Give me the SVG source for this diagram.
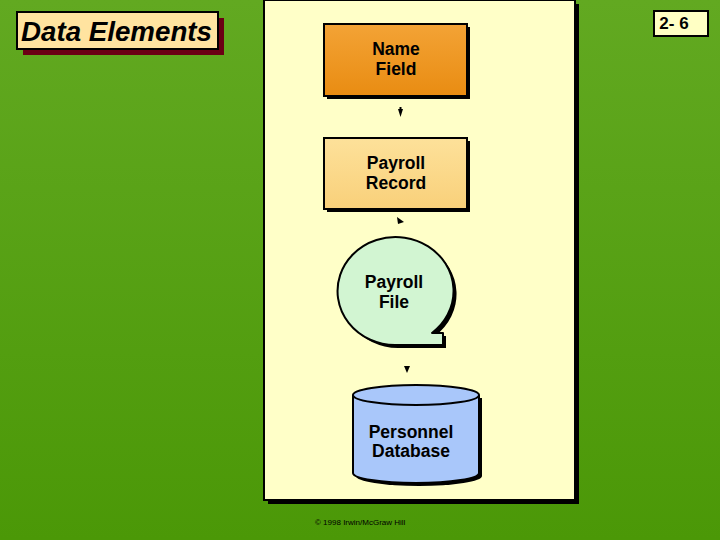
<svg xmlns="http://www.w3.org/2000/svg" width="720" height="540" viewBox="0 0 720 540">
<defs>
<linearGradient id="bg" x1="0" y1="0" x2="0" y2="1">
<stop offset="0" stop-color="#62a921"/>
<stop offset="1" stop-color="#4b9807"/>
</linearGradient>
<linearGradient id="org" x1="0" y1="0" x2="0" y2="1">
<stop offset="0" stop-color="#f3a336"/>
<stop offset="1" stop-color="#e98c12"/>
</linearGradient>
<linearGradient id="lorg" x1="0" y1="0" x2="0" y2="1">
<stop offset="0" stop-color="#fde19a"/>
<stop offset="1" stop-color="#f9d07a"/>
</linearGradient>
<style>
.t{font-family:"Liberation Sans",Arial,sans-serif;font-weight:bold;font-size:17.5px;fill:#000;text-anchor:middle}
.b{stroke:#000;stroke-width:2}
.sh{fill:#000}
</style>
</defs>
<rect width="720" height="540" fill="url(#bg)"/>
<g id="title">
<rect x="23" y="18" width="201" height="37" fill="#6b0014"/>
<rect x="17" y="12" width="201" height="37" fill="#ffe3a0" class="b"/>
<text x="21" y="41" textLength="191" lengthAdjust="spacingAndGlyphs" style="font-family:'Liberation Sans',Arial,sans-serif;font-weight:bold;font-style:italic;font-size:27px">Data Elements</text>
</g>
<g id="page">
<rect x="654" y="11" width="54" height="25" fill="#ffffc4" class="b"/>
<text x="674" y="29" class="t" style="font-size:17px">2- 6</text>
</g>
<g id="panel">
<rect x="268" y="4" width="311" height="500" class="sh"/>
<rect x="264" y="0" width="311" height="500" fill="#ffffc8" class="b"/>
</g>
<g id="name-field">
<rect x="327" y="27" width="143" height="72" class="sh"/>
<rect x="324" y="24" width="143" height="72" fill="url(#org)" class="b"/>
<text class="t" x="396" y="55">Name</text>
<text class="t" x="396" y="75">Field</text>
</g>
<g id="payroll-record">
<rect x="327" y="141" width="143" height="71" class="sh"/>
<rect x="324" y="138" width="143" height="71" fill="url(#lorg)" class="b"/>
<text class="t" x="396" y="169">Payroll</text>
<text class="t" x="396" y="189">Record</text>
</g>
<g id="payroll-file">
<path d="M435,336 L446,336 L446,348 L398,348 A58,54 0 1 1 435,336 Z" class="sh"/>
<path d="M432,333 L443,333 L443,345 L395,345 A58,54 0 1 1 432,333 Z" fill="#d2f5d2" class="b" stroke-linejoin="round"/>
<text class="t" x="394" y="288">Payroll</text>
<text class="t" x="394" y="308">File</text>
</g>
<g id="personnel-database">
<path d="M356,398 L356,476 A63,10 0 0 0 482,476 L482,398 Z" class="sh"/>
<path d="M353,395 L353,473 A63,10 0 0 0 479,473 L479,395" fill="#a9c7fa" class="b"/>
<ellipse cx="416" cy="395" rx="63" ry="10" fill="#a9c7fa" class="b"/>
<text class="t" x="411" y="438">Personnel</text>
<text class="t" x="411" y="457">Database</text>
</g>
<g id="connectors">
<path d="M398,109 L403,109 L400.5,117 Z" fill="#000"/>
<rect x="399.5" y="107" width="2" height="3" fill="#000"/>
<path d="M397,217 L404,222 L398,224 Z" fill="#000"/>
<path d="M404,366 L410,366 L407,373 Z" fill="#000"/>
</g>
<text x="315" y="525" style="font-family:'Liberation Sans',Arial,sans-serif;font-size:8px;fill:#000">© 1998 Irwin/McGraw Hill</text>
</svg>
